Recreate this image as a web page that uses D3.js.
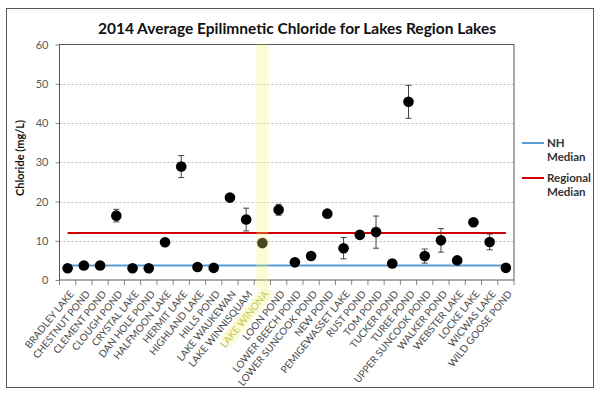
<!DOCTYPE html>
<html><head><meta charset="utf-8">
<script src="https://cdn.jsdelivr.net/npm/d3@7"></script>
<style>body{margin:0;background:#fff}svg{display:block;font-family:Lato,"Open Sans",sans-serif}</style>
</head><body><svg id="c" width="600" height="396"></svg>
<script>
const lakes = ["BRADLEY LAKE","CHESTNUT POND","CLEMENT POND","CLOUGH POND","CRYSTAL LAKE","DAN HOLE POND","HALFMOON LAKE","HERMIT LAKE","HIGHLAND LAKE","HILLS POND","LAKE WAUKEWAN","LAKE WINNISQUAM","LAKE WINONA","LOON POND","LOWER BEECH POND","LOWER SUNCOOK POND","NEW POND","PEMIGEWASSET LAKE","RUST POND","TOM POND","TUCKER POND","TUREE POND","UPPER SUNCOOK POND","WALKER POND","WEBSTER LAKE","LOCKE LAKE","WICWAS LAKE","WILD GOOSE POND"];
const chloride = [3.0,3.7,3.7,16.4,3.0,3.0,9.6,28.9,3.3,3.1,21.0,15.4,9.4,17.9,4.5,6.1,16.9,8.1,11.5,12.2,4.2,45.4,6.1,10.1,5.0,14.7,9.7,3.1];
const errors = [0,0,0,1.6,0,0,0,2.8,0,0,0,2.9,0,1.4,0,0.8,0,2.7,0,4.1,0,4.2,1.8,3.0,0.6,0,2.0,0];
const yTicks = [0,10,20,30,40,50,60];
const nhMedian = 3.7;
const regionalMedian = 12;
const highlight = "LAKE WINONA";

const svg = d3.select("#c");
const L=59.5, R=514, T=44.5, B=280;
const x = d3.scaleBand().domain(lakes).range([L,R]);
const y = d3.scaleLinear().domain([0,60]).range([B,T]);
const cx = d => x(d)+x.bandwidth()/2;

// outer frame
svg.append("rect").attr("x",6.5).attr("y",8.5).attr("width",587).attr("height",379)
  .attr("fill","#fff").attr("stroke","#555").attr("stroke-width",1);

// title
svg.append("text").attr("x",297).attr("y",34).attr("text-anchor","middle")
  .attr("font-size",15.5).attr("font-weight","bold").attr("fill","#111")
  .text("2014 Average Epilimnetic Chloride for Lakes Region Lakes");

// gridlines
svg.append("g").selectAll("line").data(yTicks.filter(t=>t>0 && t<60)).join("line")
  .attr("x1",L).attr("x2",R).attr("y1",d=>Math.round(y(d))+0.5).attr("y2",d=>Math.round(y(d))+0.5)
  .attr("stroke","#bdbdbd").attr("stroke-dasharray","2,2");

// y axis
const ya = svg.append("g").attr("transform",`translate(${L},0)`)
  .call(d3.axisLeft(y).tickValues(yTicks).tickSize(4).tickPadding(7));
ya.select(".domain").remove();
ya.selectAll("line").attr("stroke","#888");
ya.selectAll("text").attr("font-size",11).attr("fill","#595959").attr("font-family","Lato,sans-serif");

// x axis ticks between categories
svg.append("g").selectAll("line").data(d3.range(lakes.length+1)).join("line")
  .attr("x1",i=>L+i*x.step()).attr("x2",i=>L+i*x.step()).attr("y1",B).attr("y2",B+5)
  .attr("stroke","#888");

const hx = cx(highlight);

// labels
svg.append("g").selectAll("text").data(lakes).join("text")
  .attr("transform",d=>`translate(${cx(d)+4},${B+12}) rotate(-51)`)
  .attr("text-anchor","end").attr("font-size",10).attr("dy","0.35em")
  .attr("fill",d=>d===highlight?"#b4b44e":"#4a4a4a").text(d=>d);

// plot border
svg.append("rect").attr("x",L).attr("y",T).attr("width",R-L).attr("height",B-T)
  .attr("fill","none").attr("stroke","#595959").attr("stroke-width",1);

// median lines
const first = cx(lakes[0]), last = cx(lakes[lakes.length-1]);
svg.append("line").attr("x1",first).attr("x2",last).attr("y1",y(nhMedian)).attr("y2",y(nhMedian))
  .attr("stroke","#5b9bd5").attr("stroke-width",2);
svg.append("line").attr("x1",first).attr("x2",last).attr("y1",y(regionalMedian)).attr("y2",y(regionalMedian))
  .attr("stroke","#d00000").attr("stroke-width",2);

// error bars
const eb = svg.append("g").selectAll("g").data(lakes.map((d,i)=>({d,v:chloride[i],e:errors[i]})).filter(o=>o.e>0)).join("g")
  .attr("stroke","#444").attr("stroke-width",1);
eb.append("line").attr("x1",o=>cx(o.d)).attr("x2",o=>cx(o.d)).attr("y1",o=>y(o.v+o.e)).attr("y2",o=>y(o.v-o.e));
eb.append("line").attr("x1",o=>cx(o.d)-3).attr("x2",o=>cx(o.d)+3).attr("y1",o=>y(o.v+o.e)).attr("y2",o=>y(o.v+o.e));
eb.append("line").attr("x1",o=>cx(o.d)-3).attr("x2",o=>cx(o.d)+3).attr("y1",o=>y(o.v-o.e)).attr("y2",o=>y(o.v-o.e));

// dots
svg.append("g").selectAll("circle").data(lakes).join("circle")
  .attr("cx",d=>cx(d)).attr("cy",(d,i)=>y(chloride[i])).attr("r",5.3).attr("fill","#000");

// highlight overlay
const hg = svg.append("g").attr("fill","rgb(240,240,110)").attr("opacity",0.3);
hg.append("rect").attr("x",hx-6).attr("y",T).attr("width",12).attr("height",B+8-T);
hg.append("rect").attr("transform",`translate(${hx+4},${B+12}) rotate(-51)`)
  .attr("x",-66).attr("y",-6.5).attr("width",70).attr("height",13);

// y label
svg.append("text").attr("transform",`translate(24,158) rotate(-90)`).attr("text-anchor","middle")
  .attr("font-size",11).attr("font-weight","bold").attr("fill","#111").text("Chloride (mg/L)");

// legend
const lg = svg.append("g").attr("font-size",11.5).attr("font-weight","bold").attr("fill","#333");
lg.append("line").attr("x1",522).attr("x2",544).attr("y1",143).attr("y2",143).attr("stroke","#5b9bd5").attr("stroke-width",2);
lg.append("text").attr("x",547).attr("y",147).text("NH");
lg.append("text").attr("x",547).attr("y",161).text("Median");
lg.append("line").attr("x1",522).attr("x2",544).attr("y1",178).attr("y2",178).attr("stroke","#d00000").attr("stroke-width",2);
lg.append("text").attr("x",547).attr("y",182).text("Regional");
lg.append("text").attr("x",547).attr("y",196).text("Median");
</script></body></html>
